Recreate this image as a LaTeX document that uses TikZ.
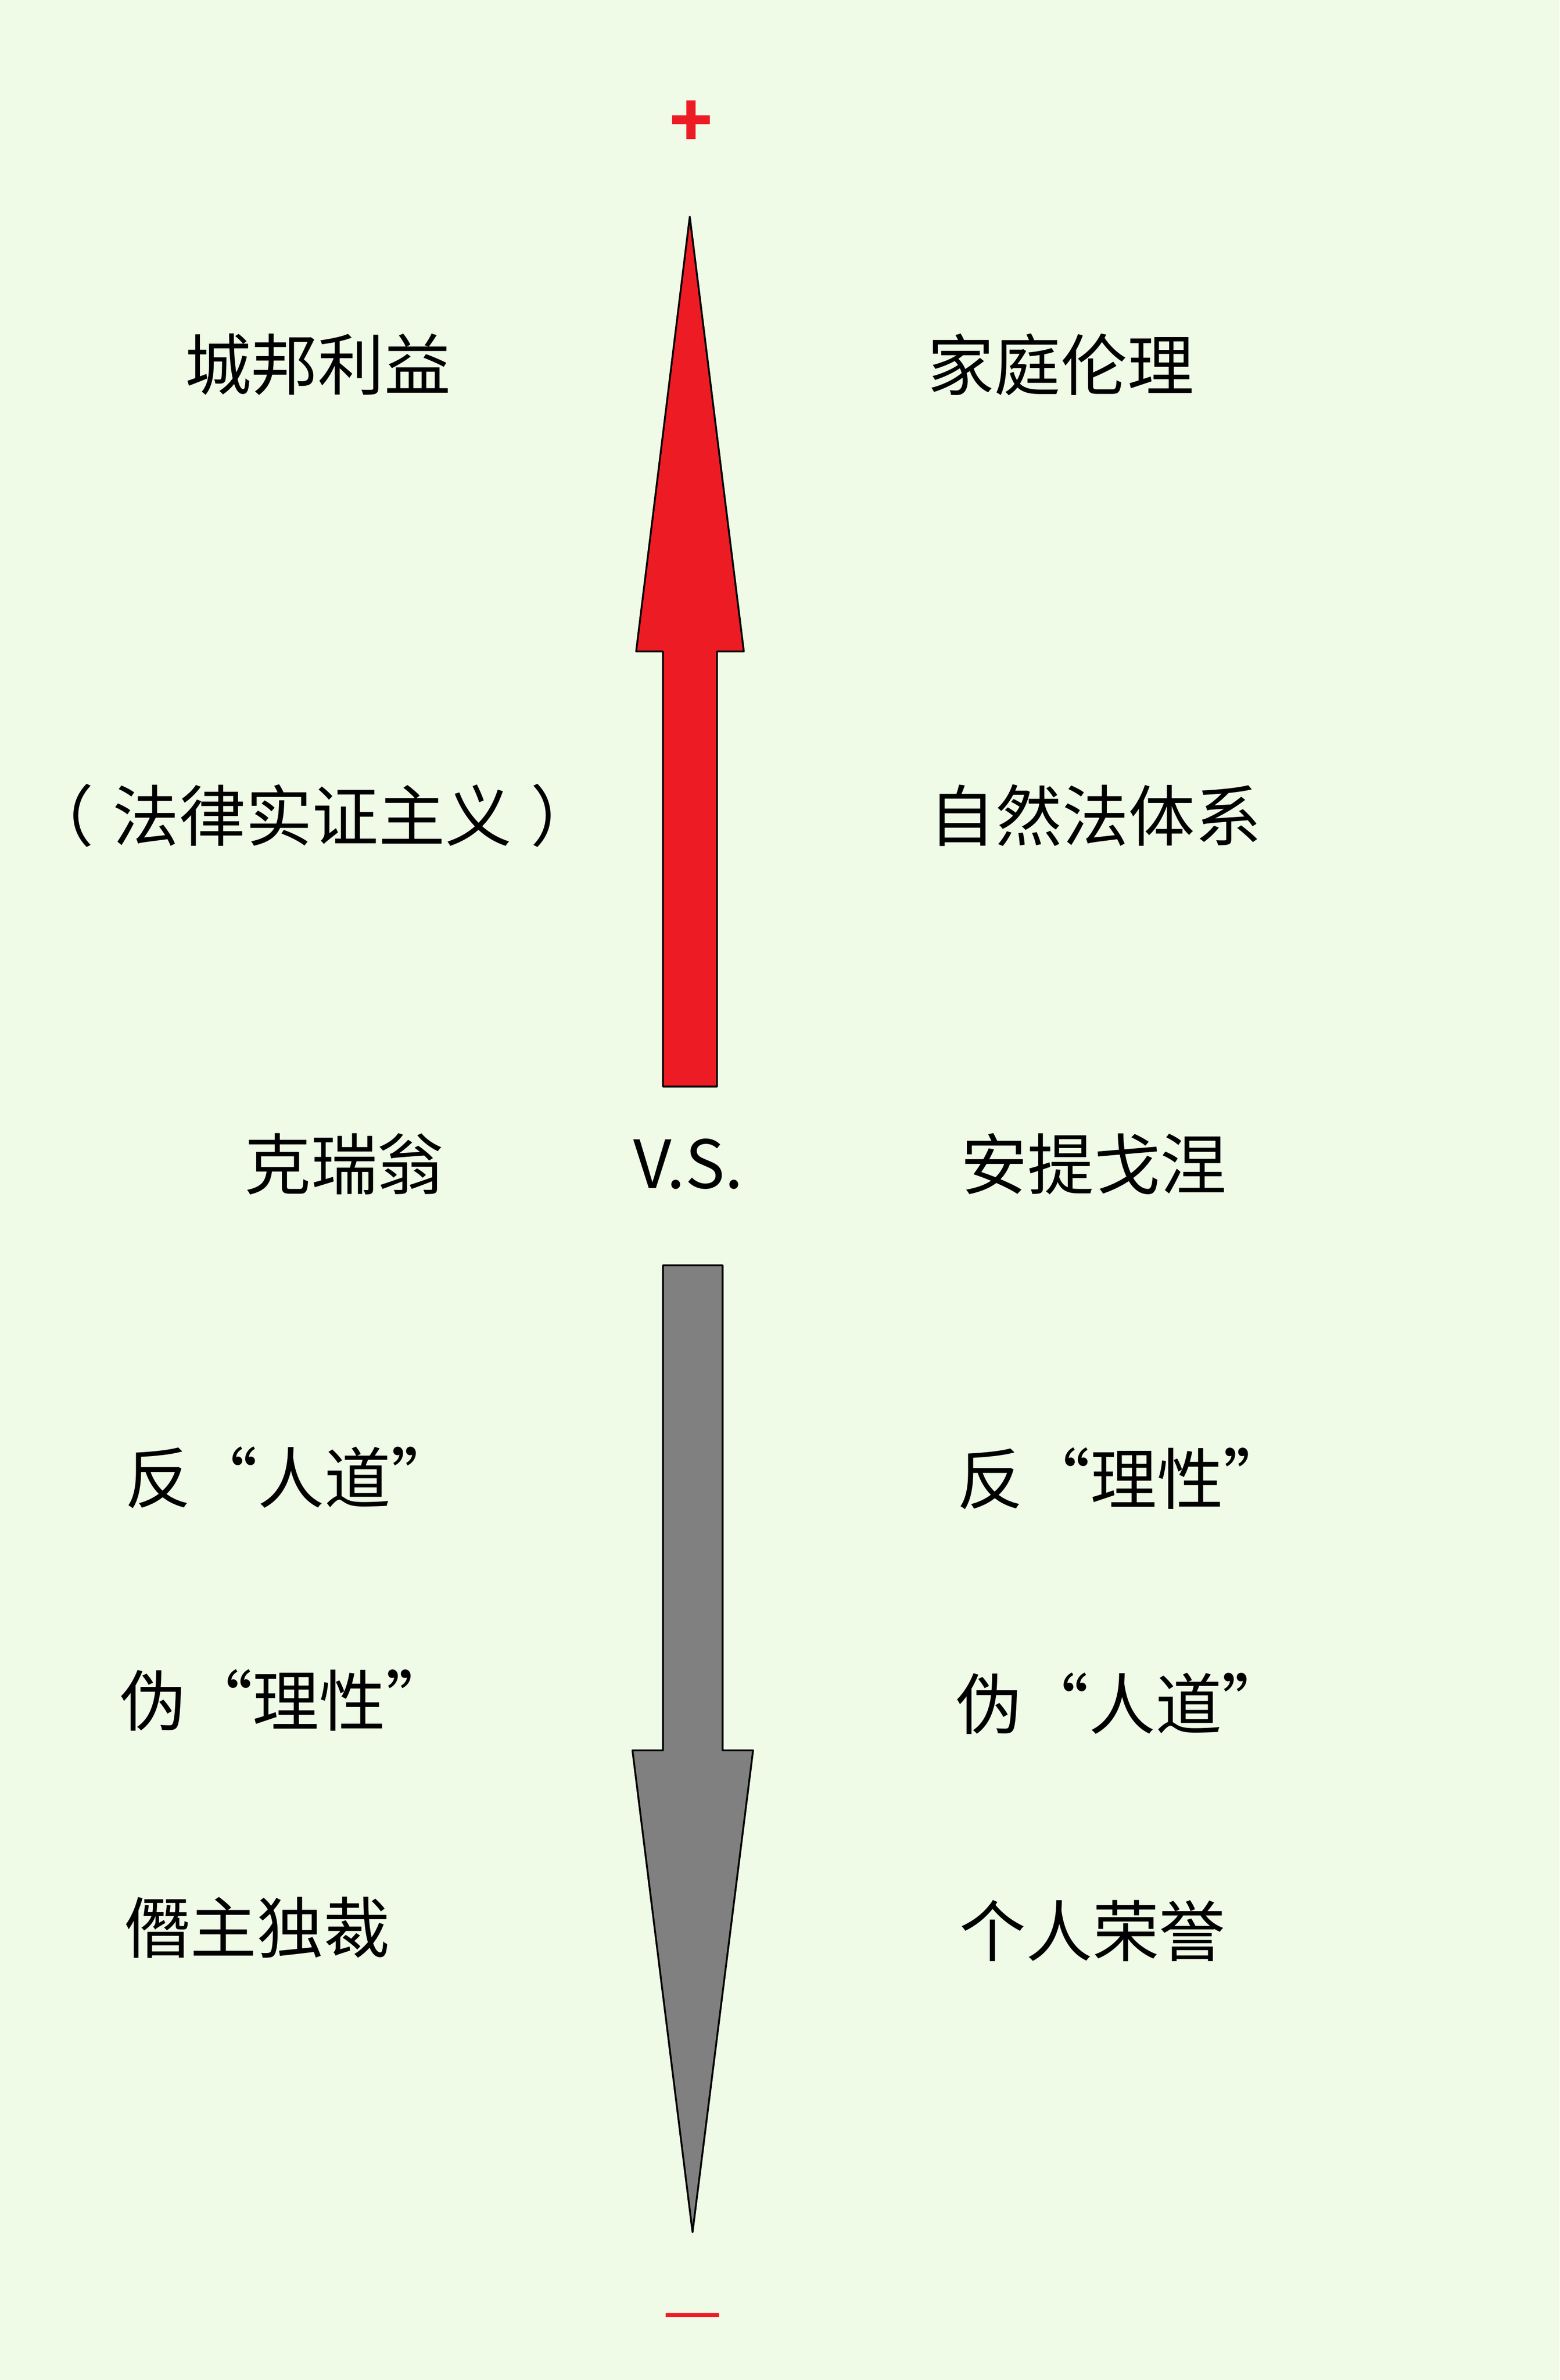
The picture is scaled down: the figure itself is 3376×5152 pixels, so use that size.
\documentclass[tikz,border=0pt]{standalone}
\usepackage{fontspec}
\setmainfont{Noto Sans CJK SC}
\definecolor{bgcol}{RGB}{239,251,230}
\definecolor{arrred}{RGB}{237,28,36}
\definecolor{arrgray}{RGB}{128,128,128}
\begin{document}
\begin{tikzpicture}[x=0.1bp,y=-0.1bp,
  lbl/.style={inner sep=0pt, font=\fontsize{14.4bp}{17bp}\selectfont, text=black},
  signlbl/.style={inner sep=0pt, text=arrred},
  arrowshape/.style={draw=black, line width=0.4bp, line join=round}]
\fill[bgcol] (0,0) rectangle (3376,5152);
\useasboundingbox (0,0) rectangle (3376,5152);
% arrows
\draw[arrowshape, fill=arrred] (1493,469) -- (1610,1410) -- (1552,1410) -- (1552,2352)
  -- (1435,2352) -- (1435,1410) -- (1377,1410) -- cycle;
\draw[arrowshape, fill=arrgray] (1435,2739) -- (1564,2739) -- (1564,3789) -- (1630,3789)
  -- (1499,4832) -- (1369,3789) -- (1435,3789) -- cycle;
% signs
\node[signlbl, font=\fontsize{15.4bp}{18bp}\bfseries] (plus) at (1496,268) {+};
\node[signlbl, font=\fontsize{14.4bp}{17bp}\selectfont] (minus) at (1499,5030) {—};
% labels
\node[lbl] (chengbang) at (688,789) {城邦利益};
\node[lbl] (jiating) at (2296,789) {家庭伦理};
\node[lbl] (falv) at (676,1765) {（\hspace{0.28em}法律实证主义\hspace{0.28em}）};
\node[lbl] (ziran) at (2371,1765) {自然法体系};
\node[lbl] (kreon) at (745,2520) {克瑞翁};
\node[lbl] (vs) at (1490,2520) {V.S.};
\node[lbl] (antigone) at (2368,2520) {安提戈涅};
\node[lbl, anchor=west] (fanrd) at (268,3198) {反“人道”};
\node[lbl, anchor=west] (fanlx) at (2070,3201) {反“理性”};
\node[lbl, anchor=west] (weilx) at (257,3680) {伪“理性”};
\node[lbl, anchor=west] (weird) at (2067,3688) {伪“人道”};
\node[lbl] (jianzhu) at (556,4172) {僭主独裁};
\node[lbl] (geren) at (2365,4180) {个人荣誉};
\end{tikzpicture}
\end{document}
